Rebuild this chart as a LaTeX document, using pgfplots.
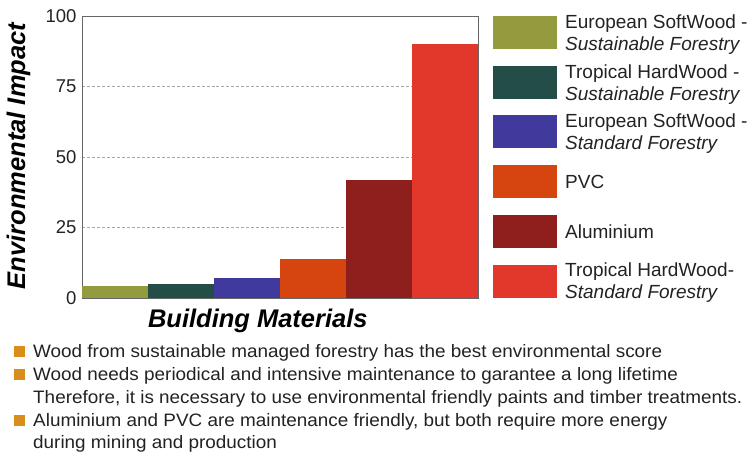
\documentclass[border=0pt]{standalone}
\usepackage{fontspec}
\setmainfont{Liberation Sans}
\newfontfamily\narrowfont[FakeStretch=1.05]{Liberation Sans}
\usepackage{pgfplots}
\pgfplotsset{compat=1.18}
\definecolor{cEUss}{HTML}{949B3E}
\definecolor{cTHss}{HTML}{234E47}
\definecolor{cEUst}{HTML}{3F3A9C}
\definecolor{cPVC}{HTML}{D6440F}
\definecolor{cAlu}{HTML}{8F1F1C}
\definecolor{cTHst}{HTML}{E2372B}
\definecolor{bullet}{HTML}{D98E1C}
\definecolor{txt}{HTML}{222222}
\begin{document}
\begin{tikzpicture}
\path[use as bounding box] (0,0) rectangle (751bp,-455bp);
\begin{axis}[
  at={(82bp,-298bp)}, anchor=south west,
  scale only axis, width=396bp, height=282bp,
  xmin=0, xmax=6, ymin=0, ymax=100,
  xtick=\empty,
  ytick={0,25,50,75,100},
  major tick length=0pt,
  ymajorgrids,
  grid style={densely dashed, gray!70, line width=0.6pt},
  axis line style={gray!80!black, line width=0.8pt},
  /pgf/number format/assume math mode=true,
  yticklabel style={font=\fontsize{18.5bp}{18.5bp}\selectfont, text=txt, xshift=-2bp},
  ylabel={\textbf{\textit{Environmental Impact}}},
  ylabel style={font=\fontsize{25.5bp}{25.5bp}\selectfont, at={(axis description cs:-0.16,0.505)}, anchor=center, text=black},
  xlabel={\textbf{\textit{Building Materials}}},
  xlabel style={font=\fontsize{25.5bp}{25.5bp}\selectfont, at={(axis description cs:0.444,-0.08)}, anchor=center, text=black},
  ybar, bar width=66bp,
]
\addplot[fill=cEUss, draw=none, bar shift=0pt] coordinates {(0.5,4.3)};
\addplot[fill=cTHss, draw=none, bar shift=0pt] coordinates {(1.5,5.1)};
\addplot[fill=cEUst, draw=none, bar shift=0pt] coordinates {(2.5,7.1)};
\addplot[fill=cPVC, draw=none, bar shift=0pt] coordinates {(3.5,14)};
\addplot[fill=cAlu, draw=none, bar shift=0pt] coordinates {(4.5,42)};
\addplot[fill=cTHst, draw=none, bar shift=0pt] coordinates {(5.5,90.2)};
\end{axis}
% legend
\begin{scope}[every node/.style={anchor=base west, inner sep=0pt, text=txt, font=\fontsize{19bp}{21.5bp}\selectfont, align=left}]
\fill[cEUss] (493bp,-16bp) rectangle (557bp,-49bp);
\node at (565bp,-50bp) {European SoftWood -\\\textit{Sustainable Forestry}};
\fill[cTHss] (493bp,-66bp) rectangle (557bp,-99bp);
\node at (565bp,-100bp) {Tropical HardWood -\\\textit{Sustainable Forestry}};
\fill[cEUst] (493bp,-115bp) rectangle (557bp,-148bp);
\node at (565bp,-149bp) {European SoftWood -\\\textit{Standard Forestry}};
\fill[cPVC] (493bp,-165bp) rectangle (557bp,-198bp);
\node at (565bp,-188bp) {PVC};
\fill[cAlu] (493bp,-215bp) rectangle (557bp,-248bp);
\node at (565bp,-238bp) {Aluminium};
\fill[cTHst] (493bp,-265bp) rectangle (557bp,-298bp);
\node at (565bp,-298bp) {Tropical HardWood-\\\textit{Standard Forestry}};
\end{scope}
\begin{scope}[every node/.style={anchor=base west, inner sep=0pt, text=txt, font=\narrowfont\fontsize{18bp}{18bp}\selectfont}]
\fill[bullet] (14bp,-357bp) rectangle (25bp,-346bp);
\node at (33bp,-357bp) {Wood from sustainable managed forestry has the best environmental score};
\fill[bullet] (14bp,-380bp) rectangle (25bp,-369bp);
\node at (33bp,-380bp) {Wood needs periodical and intensive maintenance to garantee a long lifetime};
\node at (33bp,-403bp) {Therefore, it is necessary to use environmental friendly paints and timber treatments.};
\fill[bullet] (14bp,-426bp) rectangle (25bp,-415bp);
\node at (33bp,-426bp) {Aluminium and PVC are maintenance friendly, but both require more energy};
\node at (33bp,-448bp) {during mining and production};
\end{scope}
\end{tikzpicture}
\end{document}
